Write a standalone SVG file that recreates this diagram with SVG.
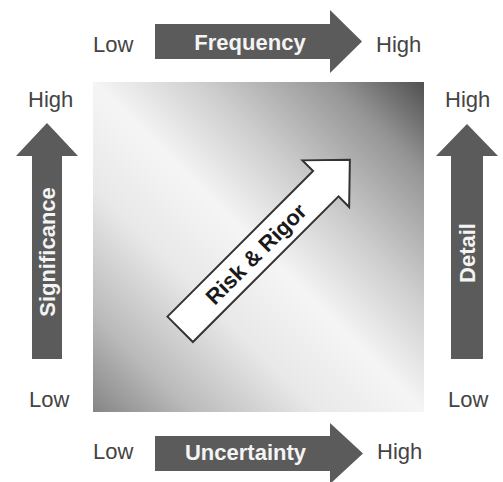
<svg xmlns="http://www.w3.org/2000/svg" width="503" height="482" viewBox="0 0 503 482">
  <defs>
    <linearGradient id="bg" x1="1" y1="0" x2="0" y2="1">
      <stop offset="0" stop-color="#505050"/>
      <stop offset="0.14" stop-color="#959595"/>
      <stop offset="0.34" stop-color="#cfcfcf"/>
      <stop offset="0.5" stop-color="#f5f5f5"/>
      <stop offset="0.66" stop-color="#e8e8e8"/>
      <stop offset="0.85" stop-color="#bababa"/>
      <stop offset="1" stop-color="#858585"/>
    </linearGradient>
  </defs>
  <style>
    .axis { fill: #5b5b5b; }
    .lbl { font-family: "Liberation Sans", Arial, sans-serif; font-size: 22px; fill: #444444; }
    .alabel { font-family: "Liberation Sans", Arial, sans-serif; font-size: 22px; font-weight: bold; fill: #f4f4f4; text-anchor: middle; }
    .risk { fill: #ffffff; stroke: #333333; stroke-width: 2; stroke-linejoin: miter; }
    .risktext { font-family: "Liberation Sans", Arial, sans-serif; font-size: 22px; font-weight: bold; fill: #1a1a1a; text-anchor: middle; }
  </style>
  <rect width="503" height="482" fill="#ffffff"/>

  <g id="field">
    <rect x="93" y="82" width="331" height="330" fill="url(#bg)"/>
  </g>

  <g id="frequency">
    <path class="axis" d="M155,24 L330,24 L330,10 L362,41.5 L330,73 L330,59 L155,59 Z"/>
    <text class="alabel" x="250" y="50">Frequency</text>
    <text class="lbl" x="93" y="52">Low</text>
    <text class="lbl" x="376" y="52">High</text>
  </g>

  <g id="uncertainty">
    <path class="axis" d="M155,436 L330,436 L330,423 L363,453.5 L330,484 L330,471 L155,471 Z"/>
    <text class="alabel" x="245.5" y="460">Uncertainty</text>
    <text class="lbl" x="93" y="459">Low</text>
    <text class="lbl" x="377" y="459">High</text>
  </g>

  <g id="significance">
    <path class="axis" d="M32,359 L32,156 L16,156 L47,123 L78,156 L62,156 L62,359 Z"/>
    <text class="alabel" transform="translate(55,252) rotate(-90)">Significance</text>
    <text class="lbl" x="28" y="107">High</text>
    <text class="lbl" x="29" y="407">Low</text>
  </g>

  <g id="detail">
    <path class="axis" d="M451,359 L451,156 L436,156 L467,124 L498,156 L483,156 L483,359 Z"/>
    <text class="alabel" transform="translate(475,253) rotate(-90)">Detail</text>
    <text class="lbl" x="445" y="107">High</text>
    <text class="lbl" x="448" y="407">Low</text>
  </g>

  <g id="risk-rigor" transform="translate(265,244.5) rotate(-45)">
    <path class="risk" d="M-120,-18 L86,-18 L86,-33 L120,0 L86,33 L86,18 L-120,18 Z"/>
    <text class="risktext" x="-13" y="8">Risk &amp; Rigor</text>
  </g>
</svg>
